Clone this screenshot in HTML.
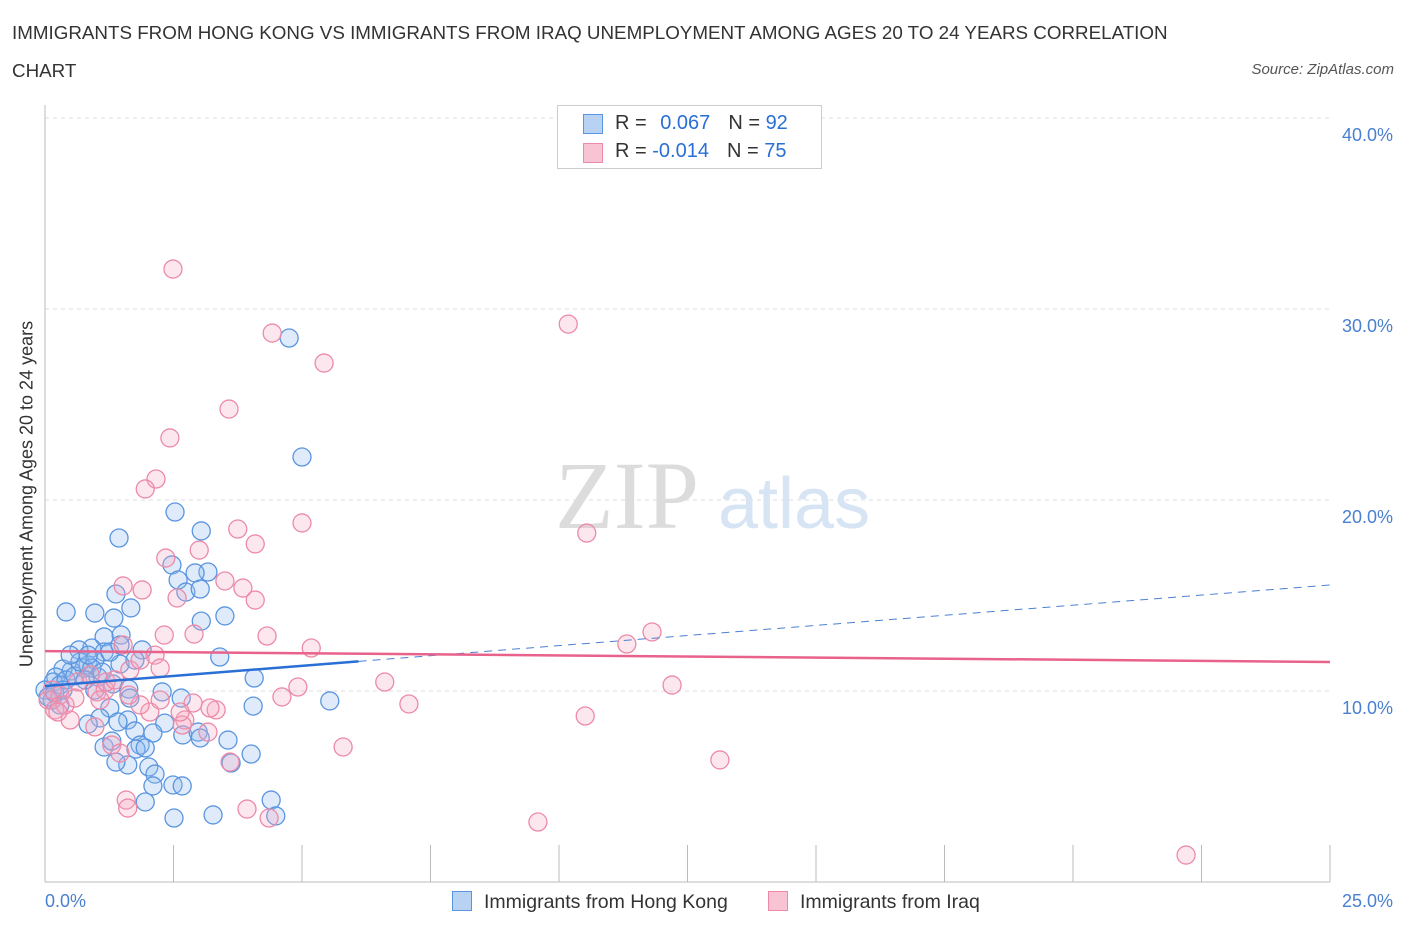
<!DOCTYPE html>
<html><head><meta charset="utf-8">
<style>
body{margin:0;background:#fff;font-family:"Liberation Sans",sans-serif;}
#wrap{position:relative;width:1406px;height:930px;overflow:hidden;}
.t{position:absolute;white-space:nowrap;}
</style></head>
<body>
<div id="wrap">
<div class="t" style="left:12px;top:14px;font-size:18.8px;color:#333;line-height:38px;">IMMIGRANTS FROM HONG KONG VS IMMIGRANTS FROM IRAQ UNEMPLOYMENT AMONG AGES 20 TO 24 YEARS CORRELATION<br>CHART</div>
<div class="t" style="right:12px;top:61px;font-size:15px;color:#555;font-style:italic;">Source: ZipAtlas.com</div>
<svg id="svg" width="1406" height="930" style="position:absolute;left:0;top:0"></svg>
</div>
<script>
const hkX=[4.75,5.00,2.53,3.04,1.44,2.47,2.59,3.17,2.92,2.74,3.02,1.38,0.41,0.97,1.67,1.34,3.50,3.04,1.48,1.15,0.91,1.89,0.66,1.15,0.84,0.76,0.51,0.35,0.21,1.03,0.16,0.00,0.14,1.46,1.32,1.63,2.28,3.40,4.07,2.65,4.05,5.54,1.65,1.26,1.07,1.61,2.33,0.84,1.75,2.10,2.68,2.98,3.56,1.15,1.85,1.77,1.95,1.30,4.01,1.61,1.38,2.02,3.62,2.14,2.10,2.49,2.67,1.95,4.40,4.49,2.51,3.27,0.29,0.41,0.58,0.68,0.97,0.29,0.06,0.19,0.91,1.11,0.49,0.84,1.26,1.46,0.78,1.75,1.42,3.02,0.35,0.97];
const hkY=[28.48,22.25,19.37,18.38,18.01,16.60,15.81,16.23,16.18,15.18,15.34,15.08,14.14,14.08,14.35,13.82,13.93,13.66,12.93,12.83,12.25,12.15,12.15,12.04,11.36,11.20,11.05,11.15,10.73,10.73,10.47,10.05,9.53,11.41,10.37,10.10,9.95,11.78,10.68,9.63,9.21,9.48,9.63,9.11,8.59,8.48,8.32,8.27,7.91,7.80,7.70,7.85,7.43,7.07,7.17,6.96,7.02,7.38,6.70,6.13,6.28,6.02,6.23,5.65,5.03,5.08,5.03,4.19,4.29,3.46,3.35,3.51,10.31,10.58,10.79,11.52,11.62,9.27,9.69,9.90,11.20,10.99,11.88,11.88,12.04,12.41,10.58,11.62,8.38,7.54,10.05,10.05];
const iqX=[2.49,4.42,10.18,5.43,3.58,2.43,2.16,1.95,10.54,5.00,3.75,2.35,4.09,3.00,3.50,1.52,1.89,3.85,4.09,2.57,2.90,2.32,4.32,5.18,11.32,11.81,1.52,2.14,2.24,1.65,12.20,6.61,4.92,4.61,7.08,2.88,3.33,2.04,2.72,2.67,1.85,10.51,1.01,1.17,0.29,0.49,0.97,1.30,1.46,1.63,3.17,3.60,5.80,13.13,1.58,1.61,3.93,4.36,9.59,22.20,0.06,0.19,0.39,0.14,0.64,0.88,1.19,1.36,1.85,3.21,2.63,0.25,0.58,1.07,2.24];
const iqY=[32.09,28.74,29.21,27.17,24.76,23.25,21.10,20.58,18.27,18.80,18.48,16.96,17.70,17.38,15.76,15.50,15.29,15.39,14.76,14.87,12.98,12.93,12.88,12.25,12.46,13.09,12.41,11.88,11.20,11.10,10.31,10.47,10.21,9.69,9.32,9.37,9.01,8.90,8.48,8.22,9.27,8.69,9.95,10.05,9.79,8.48,8.12,7.17,6.75,9.79,7.85,6.28,7.07,6.39,4.29,3.87,3.82,3.35,3.14,1.41,9.53,9.01,9.27,10.05,10.47,10.84,10.47,10.58,11.62,9.11,8.90,8.90,9.63,9.53,9.53];
const yTicks=[10,20,30,40];
const yTickLabels=["10.0%","20.0%","30.0%","40.0%"];
const hkTrend=[10.26,15.55]; const hkSolidEnd=6.1;
const iqTrend=[12.09,11.52];

const X=v=>45+v*51.4, Y=v=>882-v*19.1;
const svg=document.getElementById('svg'),NS='http://www.w3.org/2000/svg';
function mk(tag,a,name){const e=document.createElementNS(NS,tag);for(const k in a)e.setAttribute(k,a[k]);


svg.appendChild(e);return e;}
yTicks.forEach((t,i)=>{
 mk('line',{x1:45,x2:1330,y1:Y(t),y2:Y(t),stroke:'#ddd','stroke-dasharray':'4,4'},'gridline');
 const tx=mk('text',{x:1393,y:Y(t)+23,'text-anchor':'end','font-size':18,fill:'#4a80d0','font-family':'Liberation Sans'},'y-tick-label');tx.textContent=yTickLabels[i];
});
mk('line',{x1:45,x2:45,y1:105,y2:882,stroke:'#bbb'},'y-axis');
mk('line',{x1:45,x2:1330,y1:882,y2:882,stroke:'#bbb'},'x-axis');
for(let i=0;i<=10;i++){mk('line',{x1:X(i*2.5),x2:X(i*2.5),y1:845,y2:882,stroke:'#bbb'},'x-tick');}
const wm=mk('text',{x:555,y:528,'font-size':96,fill:'#dcdcdc','font-family':'Liberation Serif'},'watermark-zip');wm.textContent='ZIP';
const wm2=mk('text',{x:718,y:528,'font-size':72,fill:'#d6e4f4','font-family':'Liberation Sans'},'watermark-atlas');wm2.textContent='atlas';
hkX.forEach((v,i)=>mk('circle',{cx:X(v),cy:Y(hkY[i]),r:9,fill:'rgba(150,190,240,0.3)',stroke:'#5a95e0','stroke-width':1.3},'hong-kong-point'));
iqX.forEach((v,i)=>mk('circle',{cx:X(v),cy:Y(iqY[i]),r:9,fill:'rgba(244,170,195,0.28)',stroke:'#ec8aa8','stroke-width':1.3},'iraq-point'));
const hkAt=v=>hkTrend[0]+(hkTrend[1]-hkTrend[0])*v/25;
mk('line',{x1:X(0),y1:Y(hkTrend[0]),x2:X(hkSolidEnd),y2:Y(hkAt(hkSolidEnd)),stroke:'#2a6fd6','stroke-width':2.5},'hong-kong-trend-line');
mk('line',{x1:X(hkSolidEnd),y1:Y(hkAt(hkSolidEnd)),x2:X(25),y2:Y(hkTrend[1]),stroke:'#4a80d0','stroke-width':1,'stroke-dasharray':'8,6'},'hong-kong-trend-extension');
mk('line',{x1:X(0),y1:Y(iqTrend[0]),x2:X(25),y2:Y(iqTrend[1]),stroke:'#e8628c','stroke-width':2.5},'iraq-trend-line');
</script>
<div class="t" style="left:27px;top:494px;font-size:18px;color:#333;transform:translate(-50%,-50%) rotate(-90deg);">Unemployment Among Ages 20 to 24 years</div>
<div class="t" style="left:45px;top:891px;font-size:18px;color:#4a80d0;">0.0%</div>
<div class="t" style="right:13px;top:891px;font-size:18px;color:#4a80d0;">25.0%</div>
<div style="position:absolute;left:557px;top:105px;width:263px;height:62px;border:1px solid #ccc;background:#fff;font-size:20px;">
 <div style="position:absolute;left:25px;top:8px;width:18px;height:18px;background:#b8d2f4;border:1px solid #5a95e0"></div>
 <div class="t" style="left:57px;top:6px;color:#333">R = <span style="color:#2a6fd6;margin-left:8px">0.067</span><span style="margin-left:18px">N = </span><span style="color:#2a6fd6">92</span></div>
 <div style="position:absolute;left:25px;top:37px;width:18px;height:18px;background:#f8c4d4;border:1px solid #ec8aa8"></div>
 <div class="t" style="left:57px;top:34px;color:#333">R = <span style="color:#2a6fd6">-0.014</span><span style="margin-left:18px">N = </span><span style="color:#2a6fd6">75</span></div>
</div>
<div style="position:absolute;left:452px;top:891px;font-size:19.5px;color:#333;white-space:nowrap;">
 <span style="display:inline-block;width:18px;height:18px;background:#b8d2f4;border:1px solid #5a95e0;vertical-align:-3px;margin-right:12px"></span>Immigrants from Hong Kong</div>
<div style="position:absolute;left:768px;top:891px;font-size:19.5px;color:#333;white-space:nowrap;">
 <span style="display:inline-block;width:18px;height:18px;background:#f8c4d4;border:1px solid #ec8aa8;vertical-align:-3px;margin-right:12px"></span>Immigrants from Iraq</div>
</body></html>
